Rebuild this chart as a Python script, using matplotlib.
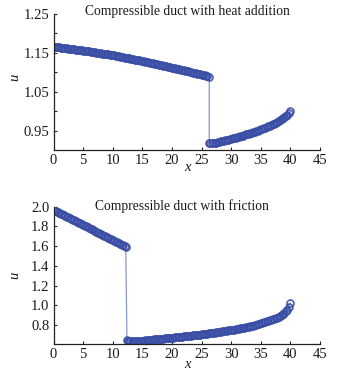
import matplotlib
matplotlib.use("Agg")
import matplotlib.pyplot as plt

# ---- data: compressible duct with heat addition ----
x_heat = [0.0, 0.25, 0.5, 0.75, 1.0, 1.25, 1.5, 1.75, 2.0, 2.25, 2.5, 2.75, 3.0, 3.25,
          3.5, 3.75, 4.0, 4.25, 4.5, 4.75, 5.0, 5.25, 5.5, 5.75, 6.0, 6.25, 6.5, 6.75,
          7.0, 7.25, 7.5, 7.75, 8.0, 8.25, 8.5, 8.75, 9.0, 9.25, 9.5, 9.75, 10.0, 10.25,
          10.5, 10.75, 11.0, 11.25, 11.5, 11.75, 12.0, 12.25, 12.5, 12.75, 13.0, 13.25,
          13.5, 13.75, 14.0, 14.25, 14.5, 14.75, 15.0, 15.25, 15.5, 15.75, 16.0, 16.25,
          16.5, 16.75, 17.0, 17.25, 17.5, 17.75, 18.0, 18.25, 18.5, 18.75, 19.0, 19.25,
          19.5, 19.75, 20.0, 20.25, 20.5, 20.75, 21.0, 21.25, 21.5, 21.75, 22.0, 22.25,
          22.5, 22.75, 23.0, 23.25, 23.5, 23.75, 24.0, 24.25, 24.5, 24.75, 25.0, 25.25,
          25.5, 25.75, 26.0, 26.3,
          26.3, 26.5, 26.75, 27.0, 27.25, 27.5, 27.75, 28.0, 28.25, 28.5, 28.75, 29.0,
          29.25, 29.5, 29.75, 30.0, 30.25, 30.5, 30.75, 31.0, 31.25, 31.5, 31.75, 32.0,
          32.25, 32.5, 32.75, 33.0, 33.25, 33.5, 33.75, 34.0, 34.25, 34.5, 34.75, 35.0,
          35.25, 35.5, 35.75, 36.0, 36.25, 36.5, 36.75, 37.0, 37.25, 37.5, 37.75, 38.0,
          38.25, 38.5, 38.75, 39.0, 39.25, 39.5, 39.75, 40.0]
u_heat = [1.1660, 1.1655, 1.1650, 1.1645, 1.1640, 1.1635, 1.1630, 1.1625, 1.1620, 1.1615,
          1.1610, 1.1605, 1.1600, 1.1595, 1.1590, 1.1585, 1.1580, 1.1575, 1.1570, 1.1565,
          1.1560, 1.1554, 1.1548, 1.1542, 1.1536, 1.1530, 1.1524, 1.1518, 1.1512, 1.1506,
          1.1500, 1.1494, 1.1488, 1.1482, 1.1476, 1.1470, 1.1464, 1.1458, 1.1452, 1.1446,
          1.1440, 1.1433, 1.1425, 1.1418, 1.1410, 1.1403, 1.1395, 1.1388, 1.1380, 1.1373,
          1.1365, 1.1358, 1.1350, 1.1343, 1.1335, 1.1328, 1.1320, 1.1313, 1.1305, 1.1298,
          1.1290, 1.1282, 1.1273, 1.1265, 1.1256, 1.1248, 1.1239, 1.1231, 1.1222, 1.1214,
          1.1205, 1.1197, 1.1188, 1.1180, 1.1171, 1.1163, 1.1154, 1.1146, 1.1137, 1.1129,
          1.1120, 1.1111, 1.1102, 1.1093, 1.1084, 1.1075, 1.1066, 1.1057, 1.1048, 1.1039,
          1.1030, 1.1021, 1.1012, 1.1003, 1.0994, 1.0985, 1.0976, 1.0967, 1.0958, 1.0949,
          1.0940, 1.0931, 1.0922, 1.0913, 1.0904, 1.0890,
          0.9170, 0.9170, 0.9175, 0.9180, 0.9185, 0.9190, 0.9200, 0.9210, 0.9220, 0.9230,
          0.9240, 0.9250, 0.9260, 0.9270, 0.9280, 0.9290, 0.9300, 0.9310, 0.9320, 0.9330,
          0.9340, 0.9350, 0.9360, 0.9370, 0.9385, 0.9400, 0.9410, 0.9420, 0.9435, 0.9450,
          0.9460, 0.9470, 0.9485, 0.9500, 0.9515, 0.9530, 0.9545, 0.9560, 0.9575, 0.9590,
          0.9605, 0.9620, 0.9640, 0.9660, 0.9680, 0.9700, 0.9720, 0.9740, 0.9765, 0.9790,
          0.9815, 0.9840, 0.9875, 0.9910, 0.9955, 1.0000]

# ---- data: compressible duct with friction ----
x_fric = [0.0, 0.25, 0.5, 0.75, 1.0, 1.25, 1.5, 1.75, 2.0, 2.25, 2.5, 2.75, 3.0, 3.25,
          3.5, 3.75, 4.0, 4.25, 4.5, 4.75, 5.0, 5.25, 5.5, 5.75, 6.0, 6.25, 6.5, 6.75,
          7.0, 7.25, 7.5, 7.75, 8.0, 8.25, 8.5, 8.75, 9.0, 9.25, 9.5, 9.75, 10.0, 10.25,
          10.5, 10.75, 11.0, 11.25, 11.5, 11.75, 12.0, 12.2,
          12.4, 12.5, 12.75, 13.0, 13.25, 13.5, 13.75, 14.0, 14.25, 14.5, 14.75, 15.0,
          15.25, 15.5, 15.75, 16.0, 16.25, 16.5, 16.75, 17.0, 17.25, 17.5, 17.75, 18.0,
          18.25, 18.5, 18.75, 19.0, 19.25, 19.5, 19.75, 20.0, 20.25, 20.5, 20.75, 21.0,
          21.25, 21.5, 21.75, 22.0, 22.25, 22.5, 22.75, 23.0, 23.25, 23.5, 23.75, 24.0,
          24.25, 24.5, 24.75, 25.0, 25.25, 25.5, 25.75, 26.0, 26.25, 26.5, 26.75, 27.0,
          27.25, 27.5, 27.75, 28.0, 28.25, 28.5, 28.75, 29.0, 29.25, 29.5, 29.75, 30.0,
          30.25, 30.5, 30.75, 31.0, 31.25, 31.5, 31.75, 32.0, 32.25, 32.5, 32.75, 33.0,
          33.25, 33.5, 33.75, 34.0, 34.25, 34.5, 34.75, 35.0, 35.25, 35.5, 35.75, 36.0,
          36.25, 36.5, 36.75, 37.0, 37.25, 37.5, 37.75, 38.0, 38.25, 38.5, 38.75, 39.0,
          39.25, 39.5, 39.75, 40.0]
u_fric = [1.968, 1.960, 1.953, 1.945, 1.937, 1.930, 1.922, 1.914, 1.907, 1.899, 1.892,
          1.884, 1.876, 1.869, 1.861, 1.853, 1.846, 1.838, 1.830, 1.823, 1.815, 1.807,
          1.800, 1.792, 1.784, 1.777, 1.769, 1.761, 1.754, 1.746, 1.738, 1.731, 1.723,
          1.715, 1.708, 1.700, 1.693, 1.685, 1.677, 1.670, 1.662, 1.654, 1.647, 1.639,
          1.631, 1.624, 1.616, 1.608, 1.601, 1.594,
          0.645, 0.641, 0.641, 0.641, 0.641, 0.641, 0.641, 0.641, 0.641, 0.641, 0.641,
          0.642, 0.643, 0.645, 0.646, 0.648, 0.649, 0.651, 0.652, 0.654, 0.655, 0.657,
          0.658, 0.660, 0.661, 0.663, 0.664, 0.666, 0.667, 0.669, 0.670, 0.672, 0.673,
          0.675, 0.676, 0.678, 0.680, 0.682, 0.683, 0.685, 0.686, 0.688, 0.690, 0.692,
          0.693, 0.695, 0.697, 0.699, 0.700, 0.702, 0.704, 0.706, 0.708, 0.710, 0.712,
          0.714, 0.716, 0.718, 0.720, 0.722, 0.724, 0.726, 0.728, 0.731, 0.733, 0.735,
          0.737, 0.740, 0.742, 0.745, 0.747, 0.750, 0.752, 0.755, 0.757, 0.760, 0.763,
          0.766, 0.769, 0.772, 0.775, 0.778, 0.781, 0.784, 0.787, 0.791, 0.795, 0.799,
          0.803, 0.808, 0.812, 0.817, 0.822, 0.827, 0.832, 0.837, 0.842, 0.848, 0.853,
          0.858, 0.863, 0.868, 0.875, 0.883, 0.892, 0.902, 0.913, 0.925, 0.939, 0.955,
          0.980, 1.025]

xticks = [0, 5, 10, 15, 20, 25, 30, 35, 40, 45]
yticks_heat = [0.95, 1.00, 1.05, 1.10, 1.15, 1.20, 1.25]
yticklabels_heat = ["0.95", "", "1.05", "", "1.15", "", "1.25"]
yticks_fric = [0.8, 1.0, 1.2, 1.4, 1.6, 1.8, 2.0]
yticklabels_fric = ["0.8", "1.0", "1.2", "1.4", "1.6", "1.8", "2.0"]

title_heat = "Compressible duct with heat addition"
title_fric = "Compressible duct with friction"

plt.rcParams['font.family'] = ['Liberation Serif', 'DejaVu Serif']

W, H = 338, 375
fig = plt.figure(figsize=(W / 100, H / 100), dpi=100)

line_col = '#8a97cc'
mk_col = '#3a4ea6'
txt_col = '#1a1a1a'

def make_axes(top_px, bottom_px):
    left_px, right_px = 53.5, 320.0
    return fig.add_axes([left_px / W, 1 - bottom_px / H,
                         (right_px - left_px) / W, (bottom_px - top_px) / H])

def style(ax):
    for s in ['top', 'right']:
        ax.spines[s].set_visible(False)
    for s in ['left', 'bottom']:
        ax.spines[s].set_linewidth(0.9)
        ax.spines[s].set_color('#222222')
    ax.tick_params(direction='in', length=2.5, width=0.8, labelsize=10.5, pad=3,
                   colors='#222222', labelcolor=txt_col)

def draw(ax, xs, us):
    ax.plot(xs, us, '-', color=line_col, lw=0.9)
    ax.plot(xs, us, 'o', mfc='none', mec=mk_col, ms=5.0, mew=1.2, alpha=0.9)

ax1 = make_axes(14, 150)
draw(ax1, x_heat, u_heat)
ax1.set_xlim(0, 45)
ax1.set_ylim(0.90, 1.25)
ax1.set_xticks(xticks)
ax1.set_yticks(yticks_heat)
ax1.set_yticklabels(yticklabels_heat)
style(ax1)

ax2 = make_axes(206.7, 344.3)
draw(ax2, x_fric, u_fric)
ax2.set_xlim(0, 45)
ax2.set_ylim(0.605, 2.0)
ax2.set_xticks(xticks)
ax2.set_yticks(yticks_fric)
ax2.set_yticklabels(yticklabels_fric)
style(ax2)

fig.text(187 / W, 1 - 12 / H, title_heat, ha='center', va='center', fontsize=9.8,
         color=txt_col)
fig.text(182 / W, 1 - 206 / H, title_fric, ha='center', va='center', fontsize=9.8,
         color=txt_col)

fig.text(187 / W, 1 - 168 / H, "x", ha='center', va='center', fontsize=10.5,
         style='italic', color=txt_col)
fig.text(187 / W, 1 - 365 / H, "x", ha='center', va='center', fontsize=10.5,
         style='italic', color=txt_col)
fig.text(15 / W, 1 - 77 / H, "u", ha='center', va='center', fontsize=10.5,
         style='italic', rotation=90, color=txt_col)
fig.text(15 / W, 1 - 275 / H, "u", ha='center', va='center', fontsize=10.5,
         style='italic', rotation=90, color=txt_col)

fig.savefig("out.png", dpi=100)
